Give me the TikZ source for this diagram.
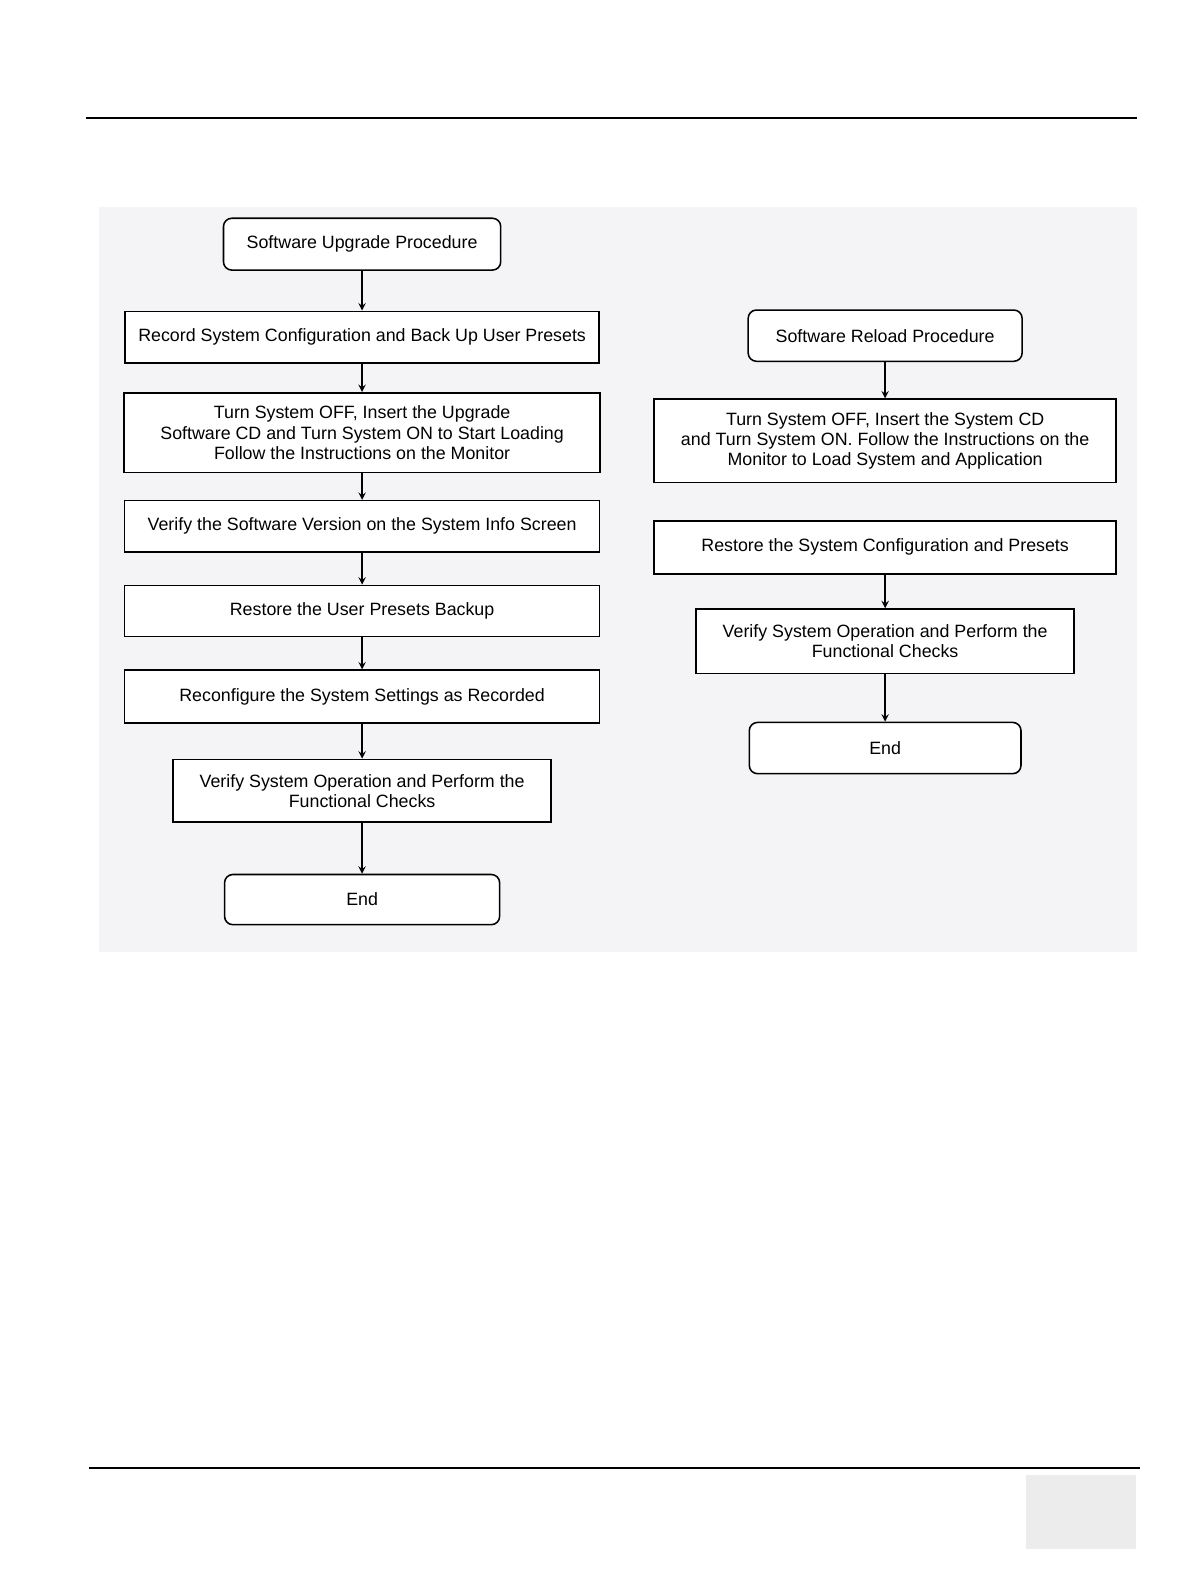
\documentclass[tikz,border=0pt]{standalone}
\usepackage{fontspec}
\setmainfont{Liberation Sans}
\usepackage{tikz}
\usetikzlibrary{arrows, positioning, backgrounds}
\definecolor{panelgray}{RGB}{244,244,246}
\definecolor{tabgray}{RGB}{236,236,236}
\tikzstyle{arrow} = [line width=0.7pt,->,>=stealth]
\tikzstyle{stepbox} = [rectangle, draw=black, line width=0.8pt, fill=white, text centered, align=center, font=\fontsize{9.2}{10.5}\selectfont]
\tikzstyle{terminal} = [stepbox, rounded corners=0.15cm]

\begin{document}
\begin{tikzpicture}[node distance=0.58cm]
\useasboundingbox (0,0) rectangle (21.59,-28.74);

% Page rules and panel
\draw [line width=0.8pt] (1.56,-2.14) -- (20.63,-2.14);
\draw [line width=0.8pt] (1.61,-26.63) -- (20.68,-26.63);
\fill [tabgray] (18.61,-26.76) rectangle (20.61,-28.10);
\fill [panelgray] (1.80,-3.76) rectangle (20.63,-17.27);

% Upgrade column
\node (upstart) [terminal, minimum width=5.03cm, minimum height=0.94cm] at (6.57,-4.43) {Software Upgrade Procedure};
\node (record) [stepbox, below=0.72cm of upstart, minimum width=8.6cm, minimum height=0.94cm] {Record System Configuration and Back Up User Presets};
\node (load) [stepbox, below=0.51cm of record, minimum width=8.64cm, minimum height=1.45cm] {Turn System OFF, Insert the Upgrade\\Software CD and Turn System ON to Start Loading\\Follow the Instructions on the Monitor};
\node (version) [stepbox, below=0.48cm of load, minimum width=8.62cm, minimum height=0.93cm] {Verify the Software Version on the System Info Screen};
\node (presets) [stepbox, below=of version, minimum width=8.62cm, minimum height=0.93cm] {Restore the User Presets Backup};
\node (settings) [stepbox, below=of presets, minimum width=8.62cm, minimum height=0.96cm] {Reconfigure the System Settings as Recorded};
\node (upcheck) [stepbox, below=0.63cm of settings, minimum width=6.86cm, minimum height=1.14cm] {Verify System Operation and Perform the\\Functional Checks};
\node (upend) [terminal, below=0.92cm of upcheck, minimum width=4.99cm, minimum height=0.91cm] {End};

% Reload column
\node (restart) [terminal, minimum width=4.97cm, minimum height=0.93cm] at (16.06,-6.09) {Software Reload Procedure};
\node (reload) [stepbox, below=0.66cm of restart, minimum width=8.38cm, minimum height=1.51cm] {Turn System OFF, Insert the System CD\\and Turn System ON. Follow the Instructions on the\\Monitor to Load System and Application};
\node (restore) [stepbox, below=0.67cm of reload, minimum width=8.38cm, minimum height=0.96cm] {Restore the System Configuration and Presets};
\node (recheck) [stepbox, below=0.61cm of restore, minimum width=6.86cm, minimum height=1.17cm] {Verify System Operation and Perform the\\Functional Checks};
\node (reend) [terminal, below=0.86cm of recheck, minimum width=4.93cm, minimum height=0.93cm] {End};

% Flow
\draw [arrow] (upstart) -- (record);
\draw [arrow] (record) -- (load);
\draw [arrow] (load) -- (version);
\draw [arrow] (version) -- (presets);
\draw [arrow] (presets) -- (settings);
\draw [arrow] (settings) -- (upcheck);
\draw [arrow] (upcheck) -- (upend);
\draw [arrow] (restart) -- (reload);
\draw [arrow] (restore) -- (recheck);
\draw [arrow] (recheck) -- (reend);

\end{tikzpicture}
\end{document}
